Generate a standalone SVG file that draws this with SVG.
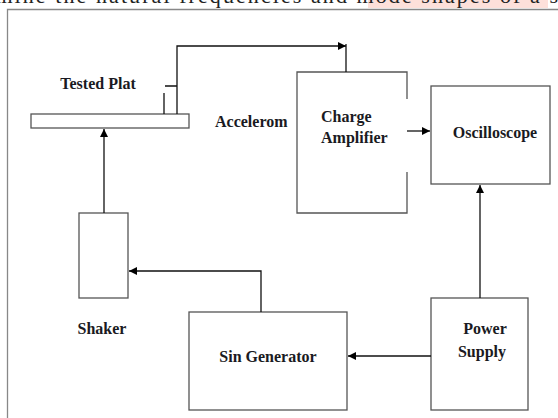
<svg xmlns="http://www.w3.org/2000/svg" width="558" height="418" viewBox="0 0 558 418">
<defs>
<marker id="ah" viewBox="0 0 10 10" refX="10" refY="5" markerWidth="8" markerHeight="8" markerUnits="userSpaceOnUse" orient="auto">
<path d="M0,0 L10,5 L0,10 z" fill="#000"/>
</marker>
<style>
.box{fill:#fff;stroke:#555;stroke-width:1.3}
.ln{fill:none;stroke:#111;stroke-width:1.3}
.lbl{font-family:"Liberation Serif","Times New Roman",serif;font-weight:bold;font-size:16px;fill:#1a1a22}
</style>
</defs>
<rect width="558" height="418" fill="#fff"/>
<rect x="368" y="0" width="180" height="8" fill="#fde0da"/>
<text x="-14" y="3" font-family="Liberation Serif, serif" font-size="22" fill="#222" textLength="572" lengthAdjust="spacing">rmine the natural frequencies and mode shapes of a s</text>
<path d="M7.5,418 V9.5 H558" fill="none" stroke="#888" stroke-width="1.3"/>

<g id="plate">
<rect class="box" x="31" y="114" width="158" height="14"/>
<text class="lbl" x="98" y="89" text-anchor="middle">Tested Plat</text>
</g>
<g id="accelerometer">
<path class="ln" d="M164,114 V93 M165,86 H177"/>
<text class="lbl" x="215" y="127">Accelerom</text>
</g>
<g id="charge-amplifier">
<path class="box" style="fill:none" d="M407,99 V72 H297 V213 H407 V172"/>
<text class="lbl" x="321" y="122">Charge</text>
<text class="lbl" x="321" y="143">Amplifier</text>
</g>
<g id="oscilloscope">
<rect class="box" x="431" y="86" width="119" height="98"/>
<text class="lbl" x="495" y="138" text-anchor="middle">Oscilloscope</text>
</g>
<g id="shaker">
<rect class="box" x="79" y="213" width="49" height="85"/>
<text class="lbl" x="102" y="334" text-anchor="middle">Shaker</text>
</g>
<g id="sin-generator">
<rect class="box" x="189" y="312" width="158" height="98"/>
<text class="lbl" x="268" y="362" text-anchor="middle">Sin Generator</text>
</g>
<g id="power-supply">
<rect class="box" x="431" y="298" width="97" height="112"/>
<text class="lbl" x="485" y="334" text-anchor="middle">Power</text>
<text class="lbl" x="482" y="357" text-anchor="middle">Supply</text>
</g>

<g id="connectors">
<path class="ln" d="M177,114 V46 H346" marker-end="url(#ah)"/>
<path class="ln" d="M346,44 V72"/>
<path class="ln" d="M407,131 H430" marker-end="url(#ah)"/>
<path class="ln" d="M480,298 V185" marker-end="url(#ah)"/>
<path class="ln" d="M431,356 H348" marker-end="url(#ah)"/>
<path class="ln" d="M261,312 V271 H129" marker-end="url(#ah)"/>
<path class="ln" d="M104,213 V129" marker-end="url(#ah)"/>
</g>
</svg>
